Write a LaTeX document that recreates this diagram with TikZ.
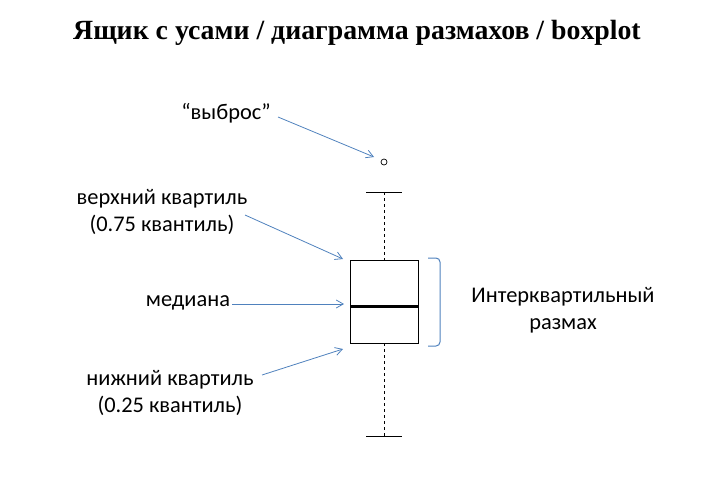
\documentclass[tikz,border=0pt]{standalone}
\usepackage{fontspec}
\setmainfont{Carlito}
\newfontfamily\titlefont{Liberation Serif}
\usetikzlibrary{arrows.meta}
\definecolor{arr}{RGB}{79,129,189}
\tikzset{lbl/.style={font=\fontsize{22.4}{27.5}\selectfont, align=center, inner sep=1pt},
 pt/.style={draw=arr, -{Straight Barb[length=7pt,width=8pt]}, line width=0.8pt}}
\begin{document}
\begin{tikzpicture}[x=1pt,y=-1pt]
\useasboundingbox (0,0) rectangle (714,488);
\node (title) at (357,33) {\titlefont\bfseries\fontsize{27.8}{32}\selectfont Ящик с усами / диаграмма размахов / boxplot};
% box plot
\node[circle, draw, inner sep=0pt, minimum size=6pt, line width=0.7pt] (out) at (384,162) {};
\coordinate (tc) at (384,192);
\coordinate (bc) at (384,436);
\draw[line width=1pt] (366,192) -- (402,192);
\draw[line width=1pt] (366,436) -- (402,436);
\draw[dashed, line width=0.9pt] (tc) -- (384,260);
\draw[dashed, line width=0.9pt] (384,343) -- (bc);
\draw[line width=0.9pt] (350,260) rectangle (418,343);
\draw[line width=3pt] (350,306) -- (418,306);
% bracket
\draw[arr, line width=1pt] (428,258) -- (436,258) to[out=0,in=90] (440,262) -- (440,342) to[out=-90,in=0] (436,346) -- (428,346);
% labels
\node[lbl] (vyb) at (226,113) {“выброс”};
\node[lbl] (vk) at (162,212) {верхний квартиль\\(0.75 квантиль)};
\node[lbl] (med) at (188,303) {медиана};
\node[lbl] (nk) at (170,393) {нижний квартиль\\(0.25 квантиль)};
\node[lbl] (iqr) at (563,310) {Интерквартильный\\размах};
\coordinate (a1) at (374,157);
\coordinate (a2) at (343,259);
\coordinate (a3) at (344,304);
\coordinate (a4) at (343,349);
\draw[pt] (278,117) -- (a1);
\draw[pt] (245,215) -- (a2);
\draw[pt] (232,304) -- (a3);
\draw[pt] (262,375) -- (a4);
\end{tikzpicture}
\end{document}
